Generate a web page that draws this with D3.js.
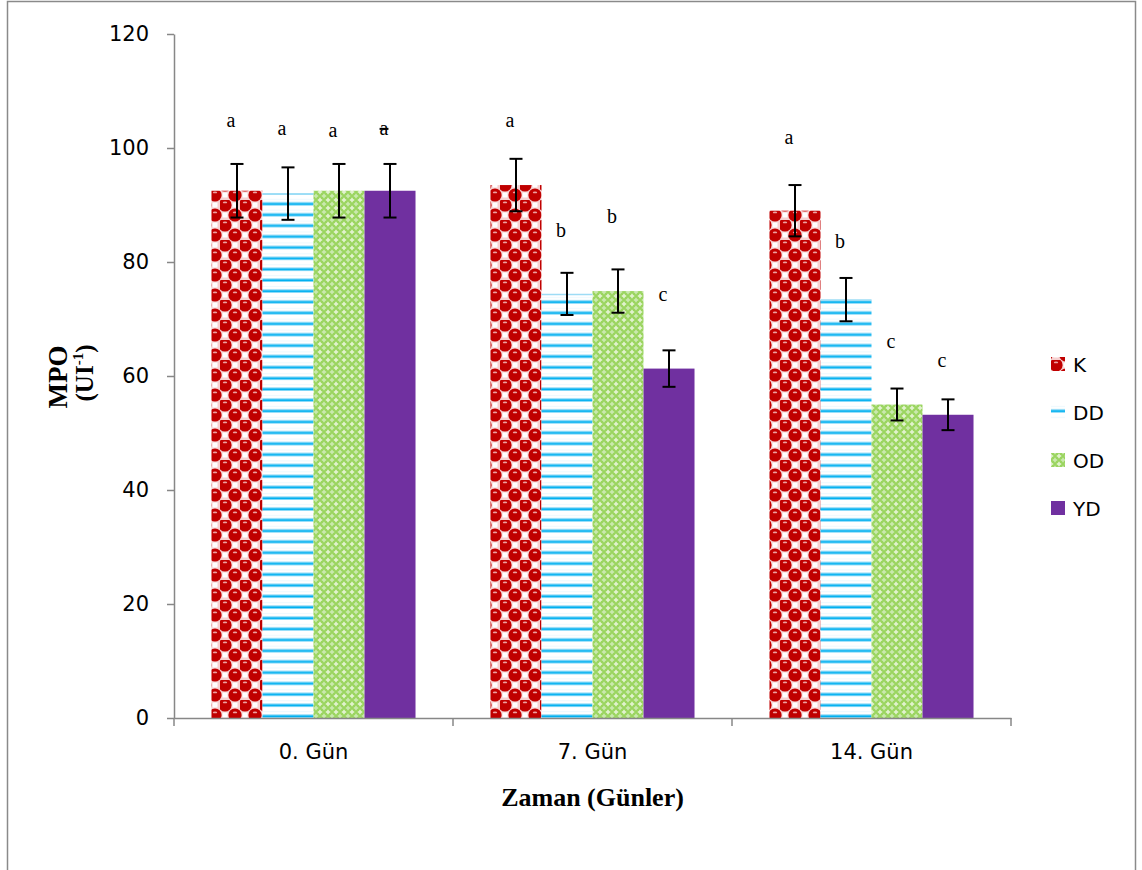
<!DOCTYPE html>
<html>
<head>
<meta charset="utf-8">
<script src="https://cdn.jsdelivr.net/npm/d3@7"></script>
<style>
  html, body { margin: 0; padding: 0; background: #fff; }
  svg { display: block; }
</style>
</head>
<body>
<svg id="chart" width="1142" height="870"></svg>
<script>
// ---- data ----
const categories = ["0. Gün", "7. Gün", "14. Gün"];
const series = ["K", "DD", "OD", "YD"];
const valuesK  = [92.5, 93.5, 89.0];
const valuesDD = [92.0, 74.4, 73.4];
const valuesOD = [92.5, 74.9, 55.0];
const valuesYD = [92.5, 61.3, 53.2];
const errK  = [4.7, 4.6, 4.5];
const errDD = [4.6, 3.7, 3.8];
const errOD = [4.7, 3.8, 2.8];
const errYD = [4.7, 3.2, 2.7];
const lettersK  = ["a", "a", "a"];
const lettersDD = ["a", "b", "b"];
const lettersOD = ["a", "b", "c"];
const lettersYD = ["a", "c", "c"];
// height (in axis units) of the significance letter baselines
const letterPosK  = [103.7, 103.7, 100.7];
const letterPosDD = [102.3, 84.4, 82.5];
const letterPosOD = [101.9, 86.8, 64.9];
const letterPosYD = [102.3, 73.2, 61.6];
const yTicks = [0, 20, 40, 60, 80, 100, 120];

const valueMap = {K: valuesK, DD: valuesDD, OD: valuesOD, YD: valuesYD};
const errMap = {K: errK, DD: errDD, OD: errOD, YD: errYD};
const letterMap = {K: lettersK, DD: lettersDD, OD: lettersOD, YD: lettersYD};
const letterPosMap = {K: letterPosK, DD: letterPosDD, OD: letterPosOD, YD: letterPosYD};

const rows = [];
categories.forEach((c, i) => {
  series.forEach(s => {
    rows.push({cat: c, ser: s, value: valueMap[s][i], err: errMap[s][i],
               letter: letterMap[s][i], letterPos: letterPosMap[s][i], ci: i});
  });
});

// ---- layout ----
const svg = d3.select("#chart");
const plotLeft = 174, plotRight = 1011, plotTop = 34, plotBottom = 718;
const axisColor = "#878787";

// border
svg.append("rect")
  .attr("x", 7.5).attr("y", 1.5).attr("width", 1128).attr("height", 900)
  .attr("fill", "none").attr("stroke", "#8a8a8a").attr("stroke-width", 1.5);

// ---- patterns ----
const defs = svg.append("defs");

// K: red spheres on checker
const pK = defs.append("pattern").attr("id", "patK")
  .attr("patternUnits", "userSpaceOnUse").attr("width", 20).attr("height", 20);
pK.append("rect").attr("width", 20).attr("height", 20).attr("fill", "#ffffff");
pK.append("rect").attr("x", 10).attr("y", 0).attr("width", 10).attr("height", 10).attr("fill", "#f6d0d0");
pK.append("rect").attr("x", 0).attr("y", 10).attr("width", 10).attr("height", 10).attr("fill", "#f6d0d0");
pK.append("rect").attr("x", 12.5).attr("y", 2.5).attr("width", 5).attr("height", 5).attr("fill", "#ffffff");
pK.append("rect").attr("x", 2.5).attr("y", 12.5).attr("width", 5).attr("height", 5).attr("fill", "#ffffff");
[[5, 5], [15, 15], [-5, 15], [15, -5], [25, 15], [15, 25], [-5, -5], [25, 25], [25, -5], [-5, 25]].forEach(([cx, cy]) => {
  pK.append("circle").attr("cx", cx).attr("cy", cy).attr("r", 6.6).attr("fill", "#c00000");
  pK.append("ellipse").attr("cx", cx).attr("cy", cy - 2.6).attr("rx", 2.2).attr("ry", 0.9)
    .attr("fill", "#efa0a0");
});

// DD: horizontal blue lines
const pDD = defs.append("pattern").attr("id", "patDD")
  .attr("patternUnits", "userSpaceOnUse").attr("width", 20).attr("height", 10.9)
  .attr("y", plotBottom);
pDD.append("rect").attr("width", 20).attr("height", 10.9).attr("fill", "#ffffff");
pDD.append("rect").attr("y", 7.2).attr("width", 20).attr("height", 1).attr("fill", "#8fd9f6");
pDD.append("rect").attr("y", 8.2).attr("width", 20).attr("height", 2.2).attr("fill", "#00b0f0");
pDD.append("rect").attr("y", 4).attr("width", 20).attr("height", 1).attr("fill", "#eef9fe");

// OD: green lattice (light crosses on green)
const pOD = defs.append("pattern").attr("id", "patOD")
  .attr("patternUnits", "userSpaceOnUse").attr("width", 8).attr("height", 8);
pOD.append("rect").attr("width", 8).attr("height", 8).attr("fill", "#9bd560");
[[0, 0], [8, 0], [0, 8], [8, 8], [4, 4]].forEach(([cx, cy], i) => {
  pOD.append("rect").attr("x", cx - 0.8).attr("y", cy - 2.2).attr("width", 1.6).attr("height", 4.4)
    .attr("fill", i < 4 ? "#e4f4d2" : "#cbeab0");
  pOD.append("rect").attr("x", cx - 2.2).attr("y", cy - 0.8).attr("width", 4.4).attr("height", 1.6)
    .attr("fill", i < 4 ? "#e4f4d2" : "#cbeab0");
});

const fills = {K: "url(#patK)", DD: "url(#patDD)", OD: "url(#patOD)", YD: "#7030a0"};

// ---- scales ----
const x0 = d3.scaleBand().domain(categories).range([plotLeft, plotRight]).paddingInner(0).paddingOuter(0);
const x1 = d3.scaleBand().domain(series).range([0, x0.bandwidth()]).paddingInner(0).paddingOuter(0.735);
const y = d3.scaleLinear().domain([0, 120]).range([plotBottom, plotTop]);

// ---- bars ----
svg.append("g").selectAll("rect").data(rows).join("rect")
  .attr("x", d => x0(d.cat) + x1(d.ser))
  .attr("y", d => y(d.value))
  .attr("width", x1.bandwidth())
  .attr("height", d => y(0) - y(d.value))
  .attr("fill", d => fills[d.ser]);
// light top edge on the striped bars
svg.append("g").selectAll("line").data(rows.filter(d => d.ser === "DD")).join("line")
  .attr("x1", d => x0(d.cat) + x1(d.ser))
  .attr("x2", d => x0(d.cat) + x1(d.ser) + x1.bandwidth())
  .attr("y1", d => y(d.value) + 0.5).attr("y2", d => y(d.value) + 0.5)
  .attr("stroke", "#9edcf5").attr("stroke-width", 1.5);

// ---- y axis ----
const yAxis = d3.axisLeft(y).tickValues(yTicks).tickSize(7).tickSizeOuter(0).tickPadding(18);
const gy = svg.append("g").attr("transform", `translate(${plotLeft},0)`).call(yAxis);
gy.select(".domain").attr("stroke", axisColor).attr("stroke-width", 1.5);
gy.selectAll(".tick line").attr("stroke", axisColor).attr("stroke-width", 1.5);
gy.selectAll(".tick text").attr("font-family", "DejaVu Sans").attr("font-size", 21).attr("fill", "#000");

// ---- x axis ----
const xAxis = d3.axisBottom(x0).tickSize(0).tickSizeOuter(0).tickPadding(26);
const gx = svg.append("g").attr("transform", `translate(0,${plotBottom})`).call(xAxis);
gx.select(".domain").attr("stroke", axisColor).attr("stroke-width", 1.5);
gx.selectAll(".tick text").attr("font-family", "DejaVu Sans").attr("font-size", 21).attr("fill", "#000");
const boundaries = categories.map(c => x0(c)).concat([x0(categories[categories.length - 1]) + x0.bandwidth()]);
svg.append("g").selectAll("line").data(boundaries).join("line")
  .attr("x1", d => d).attr("x2", d => d)
  .attr("y1", plotBottom).attr("y2", plotBottom + 8)
  .attr("stroke", axisColor).attr("stroke-width", 1.5);

// ---- error bars ----
const eg = svg.append("g").attr("stroke", "#000").attr("stroke-width", 2);
const cap = 6.5;
rows.forEach(d => {
  const cx = x0(d.cat) + x1(d.ser) + x1.bandwidth() / 2;
  const yt = y(d.value + d.err), yb = y(d.value - d.err);
  eg.append("line").attr("x1", cx).attr("x2", cx).attr("y1", yt).attr("y2", yb);
  eg.append("line").attr("x1", cx - cap).attr("x2", cx + cap).attr("y1", yt).attr("y2", yt);
  eg.append("line").attr("x1", cx - cap).attr("x2", cx + cap).attr("y1", yb).attr("y2", yb);
});

// ---- significance letters ----
svg.append("g").selectAll("text").data(rows).join("text")
  .attr("x", d => x0(d.cat) + x1(d.ser) + x1.bandwidth() / 2 - 6)
  .attr("y", d => y(d.letterPos))
  .attr("text-anchor", "middle")
  .attr("font-family", "Liberation Serif, Times New Roman, serif")
  .attr("font-size", 20)
  .attr("fill", "#000")
  .style("text-decoration", d => (d.ci === 0 && d.ser === "YD") ? "line-through" : "none")
  .text(d => d.letter);

// ---- axis titles ----
svg.append("text")
  .attr("x", (plotLeft + plotRight) / 2).attr("y", 806)
  .attr("text-anchor", "middle")
  .attr("font-family", "Liberation Serif, Times New Roman, serif")
  .attr("font-weight", "bold").attr("font-size", 26)
  .text("Zaman (Günler)");

svg.append("text")
  .attr("transform", "translate(67,377) rotate(-90)")
  .attr("text-anchor", "middle")
  .attr("font-family", "Liberation Serif, Times New Roman, serif")
  .attr("font-weight", "bold").attr("font-size", 27)
  .text("MPO");
const yt2 = svg.append("text")
  .attr("transform", "translate(93,373) rotate(-90)")
  .attr("text-anchor", "middle")
  .attr("font-family", "Liberation Serif, Times New Roman, serif")
  .attr("font-weight", "bold").attr("font-size", 25);
yt2.append("tspan").text("(UI");
yt2.append("tspan").attr("font-size", 15).attr("dy", -10).text("-1");
yt2.append("tspan").attr("dy", 10).text(")");

// ---- legend ----
const legend = svg.append("g").attr("transform", "translate(1051,0)");
const legendY = d3.scalePoint().domain(series).range([364, 508]);
legend.selectAll("rect").data(series).join("rect")
  .attr("x", 0).attr("y", d => legendY(d) - 7)
  .attr("width", 14).attr("height", 14)
  .attr("fill", d => fills[d]);
legend.selectAll("text").data(series).join("text")
  .attr("x", 22).attr("y", d => legendY(d) + 7.5)
  .attr("font-family", "DejaVu Sans").attr("font-size", 20)
  .attr("fill", "#000")
  .text(d => d);
</script>
</body>
</html>
